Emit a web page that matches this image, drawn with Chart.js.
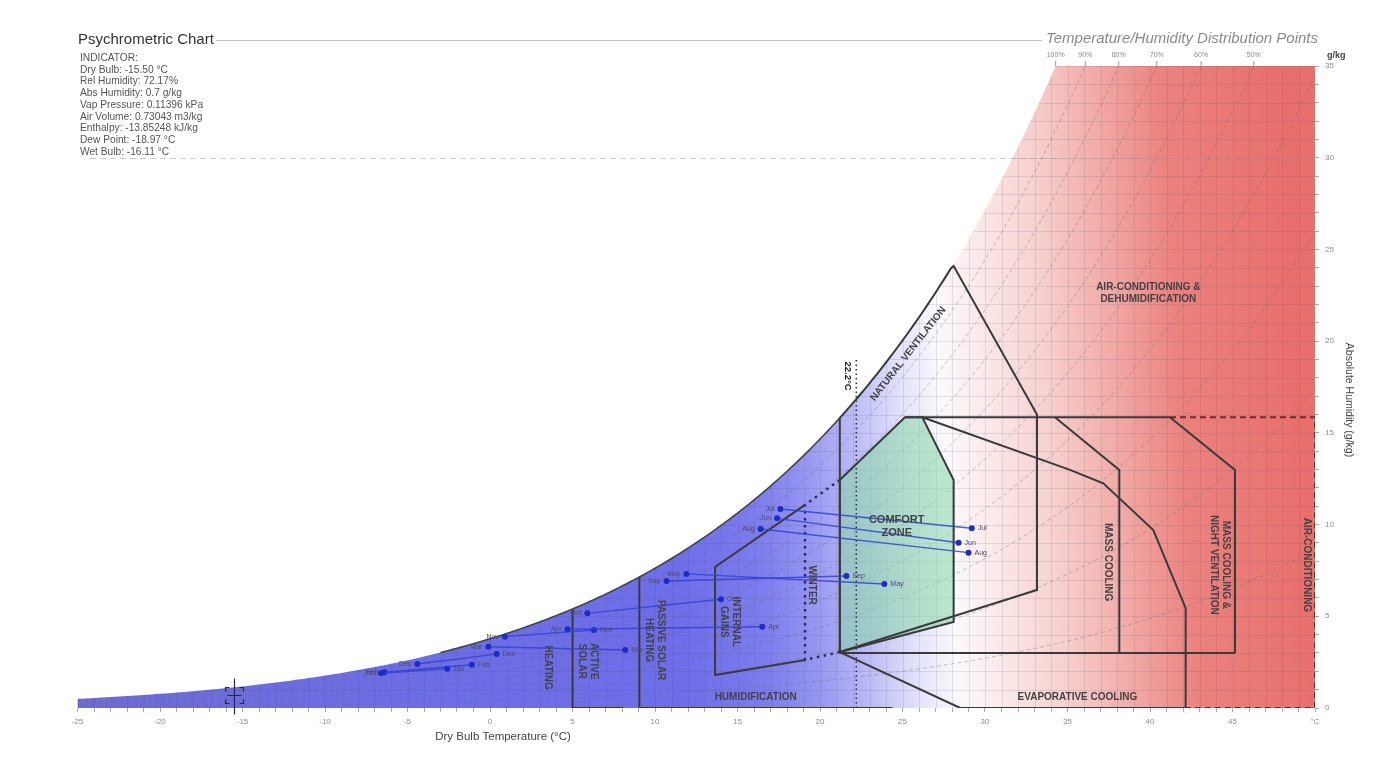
<!DOCTYPE html>
<html>
<head>
<meta charset="utf-8">
<title>Psychrometric Chart</title>
<script src="https://cdn.jsdelivr.net/npm/chart.js@4.4.1/dist/chart.umd.min.js"></script>
<style>
html,body{margin:0;padding:0;background:#ffffff;overflow:hidden;}
#box{position:relative;width:1374px;height:765px;}
</style>
</head>
<body>
<div id="box"><canvas id="psy"></canvas></div>
<script>
// Monthly climate lines: each month runs from its coolest to its warmest state
const months  = ['Jan','Feb','Mar','Apr','May','Jun','Jul','Aug','Sep','Oct','Nov','Dec'];
const minTemp = [-6.6, -6.4, -0.1, 4.7, 11.9, 17.4, 17.6, 16.4, 10.7, 5.9, 0.9, -4.4];
const minHum  = [1.89, 1.95, 3.34, 4.29, 7.31, 10.34, 10.85, 9.76, 6.92, 5.16, 3.89, 2.40];
const maxTemp = [-2.6, -1.1, 8.2, 16.5, 23.9, 28.4, 29.2, 29.0, 21.6, 14.0, 6.3, 0.4];
const maxHum  = [2.14, 2.36, 3.16, 4.43, 6.76, 9.01, 9.80, 8.47, 7.20, 5.93, 4.25, 2.94];

// Axis ticks
const tempTicks = [-25,-20,-15,-10,-5,0,5,10,15,20,25,30,35,40,45];
const tempUnitTick = 50;
const humTicks  = [0,5,10,15,20,25,30,35];
const rhLabelled = [100,90,80,70,60,50];
const rhCurves   = [10,20,30,40,50,60,70,80,90];

// Indicator readout
const indicatorLines = [
  'INDICATOR:',
  'Dry Bulb: -15.50 °C',
  'Rel Humidity: 72.17%',
  'Abs Humidity: 0.7 g/kg',
  'Vap Pressure: 0.11396 kPa',
  'Air Volume: 0.73043 m3/kg',
  'Enthalpy: -13.85248 kJ/kg',
  'Dew Point: -18.97 °C',
  'Wet Bulb: -16.11 °C'
];
const indicatorTemp = -15.5;
const indicatorHum  = 0.7;

// Design strategy zone boundaries, [dry bulb °C, g/kg]
const comfortZone   = [[21.2,3.05],[21.2,12.43],[25.15,15.85],[26.2,15.85],[28.1,12.43],[28.1,4.69]];
const ventRight     = [[28.1,24.1],[33.15,16.0],[33.15,6.43],[21.2,3.05]];
const coolingTop    = [[25.15,15.85],[41.21,15.85]];
const coolingBase   = [[21.2,3.0],[45.15,3.0]];
const massCooling   = [[34.24,15.85],[38.14,12.98],[38.14,3.0]];
const massNight     = [[41.21,15.85],[45.15,12.98],[45.15,3.0]];
const evapCooling   = [[26.2,15.85],[35.15,12.98],[37.17,12.25],[40.2,9.7],[42.16,5.44],[42.16,0],[28.5,0],[21.2,3.05]];
const airCondEdge   = [[41.21,15.85],[50,15.85],[50,0],[42.16,0]];
const internalGains = [[19.09,2.62],[13.64,1.8],[13.64,7.69],[19.09,11.07]];
const winterEdge    = [[21.2,12.43],[19.09,11.07],[19.09,2.62],[21.2,3.05]];
const activeSolarT  = 5.0;
const activeSolarBase = [[5.0,0],[8.07,0]];
const passiveSolarT = 9.05;
const passiveBase   = [[9.05,0],[24.4,0]];
const designTemp    = 22.2;
const designTop     = 19.1;

const P_ATM = 101.325;
function satPressure(t){ return 0.61094*Math.exp(17.625*t/(t+243.04)); }
function humidityAt(t, rh){ const p = satPressure(t); return 622*rh*p/(P_ATM - p); }
function curve(t0, t1, rh, cap){
  const pts = [];
  for (let t = t0; t <= t1 + 1e-9; t += 0.25){
    const w = humidityAt(t, rh);
    pts.push({x:t, y:w});
    if (cap && w > cap) break;
  }
  return pts;
}
const pts = arr => arr.map(([x,y]) => ({x, y}));

// Background shading across dry bulb temperature (slightly warmer toward high humidity)
const shadeStops = [
  [-25,'rgb(108,108,230)'],[12,'rgb(110,110,233)'],[17,'rgb(125,125,237)'],
  [20,'rgb(150,150,241)'],[23,'rgb(186,186,246)'],[26,'rgb(226,226,251)'],
  [28.5,'rgb(250,249,252)'],[31,'rgb(251,234,234)'],[35,'rgb(246,208,206)'],
  [39,'rgb(241,170,166)'],[43,'rgb(235,130,126)'],[50,'rgb(232,112,108)']
];
const shadeTilt = 0.06;

const zoneLabels = [
  {lines:['HEATING'], t:3.5, w:2.2, rot:90},
  {lines:['ACTIVE','SOLAR'], t:5.95, w:2.55, rot:90},
  {lines:['PASSIVE SOLAR','HEATING'], t:10.0, w:3.7, rot:90},
  {lines:['INTERNAL','GAINS'], t:14.55, w:4.7, rot:90},
  {lines:['WINTER'], t:19.5, w:6.7, rot:90},
  {lines:['COMFORT','ZONE'], t:24.65, w:9.9, rot:0, size:11},
  {lines:['NATURAL VENTILATION'], t:25.35, w:19.3, rot:-52},
  {lines:['AIR-CONDITIONING &','DEHUMIDIFICATION'], t:39.9, w:22.6, rot:0},
  {lines:['MASS COOLING'], t:37.45, w:7.95, rot:90},
  {lines:['MASS COOLING &','NIGHT VENTILATION'], t:44.2, w:7.8, rot:90},
  {lines:['AIR-CONDITIONING'], t:49.5, w:7.8, rot:90},
  {lines:['EVAPORATIVE COOLING'], t:35.6, w:0.6, rot:0},
  {lines:['HUMIDIFICATION'], t:16.1, w:0.6, rot:0}
];

const FONT = '"Liberation Sans", Arial, sans-serif';
const ZONE_LINE = '#3a3a3a';

function zoneLine(points, extra){
  return Object.assign({
    data: points, showLine:true, fill:false, borderColor:ZONE_LINE, borderWidth:2,
    pointRadius:0, tension:0, order:2
  }, extra || {});
}

const datasets = [];
// relative humidity curves
rhCurves.forEach(rh => {
  datasets.push({data: curve(-25, 50, rh/100, 36), showLine:true, fill:false,
    borderColor:'rgba(110,110,120,0.5)', borderWidth:0.8, borderDash:[4,3],
    pointRadius:0, order:5});
});
// comfort zone fill
datasets.push({data: pts(comfortZone.concat([comfortZone[0]])), showLine:true,
  fill:'shape', backgroundColor:'rgba(135,215,165,0.55)', borderColor:ZONE_LINE,
  borderWidth:2, pointRadius:0, order:4});
// saturation edge, natural ventilation and cooling zones
datasets.push(zoneLine(curve(-3, 21.2, 1).concat([{x:21.2, y:humidityAt(21.2,1)}]), {borderWidth:1.6, borderColor:'#454545'}));
datasets.push(zoneLine([{x:21.2,y:3.05}].concat(curve(21.2, 28.1, 1)).concat(pts(ventRight))));
datasets.push(zoneLine(pts(coolingTop)));
datasets.push(zoneLine(pts(coolingBase)));
datasets.push(zoneLine(pts(massCooling)));
datasets.push(zoneLine(pts(massNight)));
datasets.push(zoneLine(pts(evapCooling)));
datasets.push(zoneLine(pts(airCondEdge), {borderColor:'#6e2b2b', borderDash:[6,4]}));
datasets.push(zoneLine(pts(internalGains)));
datasets.push(zoneLine(pts(winterEdge), {borderColor:'#2a2a66', borderWidth:2.5, borderDash:[2.5,4.5]}));
datasets.push(zoneLine([{x:activeSolarT,y:0},{x:activeSolarT,y:humidityAt(activeSolarT,1)}]));
datasets.push(zoneLine(pts(activeSolarBase)));
datasets.push(zoneLine([{x:passiveSolarT,y:0},{x:passiveSolarT,y:humidityAt(passiveSolarT,1)}]));
datasets.push(zoneLine(pts(passiveBase)));
datasets.push(zoneLine([{x:designTemp,y:0},{x:designTemp,y:designTop}], {borderColor:'#333', borderWidth:1.6, borderDash:[1.5,3]}));
// monthly lines
months.forEach((m, i) => {
  datasets.push({data:[{x:minTemp[i], y:minHum[i]},{x:maxTemp[i], y:maxHum[i]}],
    showLine:true, fill:false, borderColor:'rgba(50,65,210,0.85)', borderWidth:1.4,
    pointRadius:3, pointBackgroundColor:'#1e2cc4', pointBorderWidth:0, order:0});
});

function drawText(ctx, text, x, y, font, color, align, baseline){
  ctx.font = font; ctx.fillStyle = color;
  ctx.textAlign = align || 'left'; ctx.textBaseline = baseline || 'middle';
  ctx.fillText(text, x, y);
}

const backdrop = {
  id:'psyBackdrop',
  beforeDatasetsDraw(chart){
    const {ctx, chartArea:a, scales:{x, y}} = chart;
    ctx.save();
    ctx.beginPath(); ctx.rect(a.left, a.top, a.right-a.left, a.bottom-a.top); ctx.clip();
    ctx.beginPath();
    ctx.moveTo(x.getPixelForValue(-25), y.getPixelForValue(0));
    for (let t = -25; t <= 50.0001; t += 0.25){
      ctx.lineTo(x.getPixelForValue(t), y.getPixelForValue(Math.min(humidityAt(t,1), 36)));
    }
    ctx.lineTo(x.getPixelForValue(50), y.getPixelForValue(0));
    ctx.closePath();
    // gradient axis leans so that colour bands tilt toward cooler temperatures at high humidity
    const x0 = x.getPixelForValue(-25), y0 = y.getPixelForValue(0);
    const span = x.getPixelForValue(50) - x0;
    const k = span / (1 + shadeTilt*shadeTilt);
    const g = ctx.createLinearGradient(x0, y0, x0 + k, y0 - k*shadeTilt);
    shadeStops.forEach(([t, c]) => g.addColorStop((t+25)/75, c));
    ctx.fillStyle = g; ctx.fill();
    ctx.clip();
    ctx.strokeStyle = 'rgba(70,70,110,0.13)'; ctx.lineWidth = 1;
    ctx.beginPath();
    for (let t = -25; t <= 50; t++){
      const px = Math.round(x.getPixelForValue(t)) + 0.5;
      ctx.moveTo(px, a.top); ctx.lineTo(px, a.bottom);
    }
    for (let w = 1; w <= 35; w++){
      const py = Math.round(y.getPixelForValue(w)) + 0.5;
      ctx.moveTo(a.left, py); ctx.lineTo(a.right, py);
    }
    ctx.stroke();
    ctx.restore();

    // 30 g/kg guide line
    ctx.save();
    ctx.strokeStyle = 'rgba(160,160,160,0.55)'; ctx.lineWidth = 1; ctx.setLineDash([6,4]);
    const py30 = Math.round(y.getPixelForValue(30)) + 0.5;
    ctx.beginPath(); ctx.moveTo(90, py30); ctx.lineTo(a.right, py30); ctx.stroke();
    ctx.restore();
  },
  afterDatasetsDraw(chart){
    const {ctx, chartArea:a, scales:{x, y}} = chart;
    ctx.save();
    // month labels
    months.forEach((m, i) => {
      drawText(ctx, m, x.getPixelForValue(minTemp[i]) - 6, y.getPixelForValue(minHum[i]), '7px ' + FONT, '#4a4a66', 'right');
      drawText(ctx, m, x.getPixelForValue(maxTemp[i]) + 6, y.getPixelForValue(maxHum[i]), '7px ' + FONT, '#4a4a66', 'left');
    });
    // zone labels
    zoneLabels.forEach(z => {
      const size = z.size || 10;
      const lh = size + 2;
      ctx.save();
      ctx.translate(x.getPixelForValue(z.t), y.getPixelForValue(z.w));
      ctx.rotate(z.rot * Math.PI / 180);
      z.lines.forEach((ln, k) => {
        drawText(ctx, ln, 0, (k - (z.lines.length-1)/2) * lh, 'bold ' + size + 'px ' + FONT, '#424242', 'center');
      });
      ctx.restore();
    });
    // design temperature label
    ctx.save();
    ctx.translate(x.getPixelForValue(designTemp) - 9, y.getPixelForValue(18.1));
    ctx.rotate(Math.PI/2);
    drawText(ctx, '22.2°C', 0, 0, 'bold 9.5px ' + FONT, '#222', 'center');
    ctx.restore();

    // indicator cross-hair
    const cx = Math.round(x.getPixelForValue(indicatorTemp)) + 0.5;
    const cy = Math.round(y.getPixelForValue(indicatorHum)) + 0.5;
    ctx.strokeStyle = '#2a2a3a'; ctx.lineWidth = 1.2;
    ctx.beginPath();
    ctx.moveTo(cx, cy - 17); ctx.lineTo(cx, cy + 19);
    ctx.moveTo(cx - 7, cy); ctx.lineTo(cx + 7, cy);
    [[-1,-1],[1,-1],[-1,1],[1,1]].forEach(([sx, sy]) => {
      ctx.moveTo(cx + sx*9, cy + sy*4); ctx.lineTo(cx + sx*9, cy + sy*8); ctx.lineTo(cx + sx*5, cy + sy*8);
    });
    ctx.stroke();
    ctx.restore();
  },
  afterDraw(chart){
    const {ctx, chartArea:a, scales:{x, y}} = chart;
    ctx.save();
    // heading
    drawText(ctx, 'Psychrometric Chart', 78, 40, '15px ' + FONT, '#333', 'left');
    drawText(ctx, 'Temperature/Humidity Distribution Points', 1318, 39, 'italic 15px ' + FONT, '#8a8a8a', 'right');
    ctx.strokeStyle = 'rgba(180,180,180,0.8)'; ctx.lineWidth = 1;
    ctx.beginPath(); ctx.moveTo(216, 40.5); ctx.lineTo(1042, 40.5); ctx.stroke();
    // indicator readout
    indicatorLines.forEach((ln, k) => drawText(ctx, ln, 80, 58 + k*11.75, '10.2px ' + FONT, '#555', 'left'));
    // relative humidity labels along the top
    rhLabelled.forEach(rh => {
      const p = P_ATM * 35 / (622*rh/100 + 35);
      // invert saturation pressure for the temperature where the curve meets the top
      const l = Math.log(p/0.61094);
      const t = 243.04*l/(17.625 - l);
      const px = x.getPixelForValue(t);
      drawText(ctx, rh + '%', px, 55, '7px ' + FONT, '#8a8a8a', 'center');
      ctx.strokeStyle = '#999'; ctx.beginPath(); ctx.moveTo(px, 61); ctx.lineTo(px, a.top); ctx.stroke();
    });
    drawText(ctx, 'g/kg', 1327, 56, 'bold 9px ' + FONT, '#444', 'left');
    // axis titles
    drawText(ctx, 'Dry Bulb Temperature (°C)', 503, 737, '11.5px ' + FONT, '#444', 'center');
    ctx.save();
    ctx.translate(1349, 400); ctx.rotate(Math.PI/2);
    drawText(ctx, 'Absolute Humidity (g/kg)', 0, 0, '10.5px ' + FONT, '#444', 'center');
    ctx.restore();
    ctx.restore();
  }
};

new Chart(document.getElementById('psy'), {
  type:'scatter',
  data:{datasets},
  options:{
    responsive:true, maintainAspectRatio:false, animation:false,
    layout:{padding:{left:77.5, top:66, right:0, bottom:0}},
    plugins:{legend:{display:false}, tooltip:{enabled:false}},
    elements:{line:{tension:0}},
    scales:{
      x:{
        type:'linear', position:'bottom', min:-25, max:50,
        afterFit(s){ s.height = 57; },
        border:{display:false},
        grid:{display:true, drawOnChartArea:false, drawTicks:true, tickLength:4, color:'#aaa'},
        ticks:{stepSize:1, autoSkip:false, maxRotation:0, padding:5,
          font:{size:8, family:FONT}, color:'#8a8a8a',
          callback(v){ return v === tempUnitTick ? '°C' : (tempTicks.includes(v) ? String(v) : ''); }}
      },
      y:{
        type:'linear', position:'right', min:0, max:35,
        afterFit(s){ s.width = 59; },
        border:{display:false},
        grid:{display:true, drawOnChartArea:false, drawTicks:true, tickLength:4, color:'#aaa'},
        ticks:{stepSize:1, autoSkip:false, padding:6,
          font:{size:8, family:FONT}, color:'#8a8a8a',
          callback(v){ return humTicks.includes(v) ? String(v) : ''; }}
      }
    }
  },
  plugins:[backdrop]
});
</script>
</body>
</html>
